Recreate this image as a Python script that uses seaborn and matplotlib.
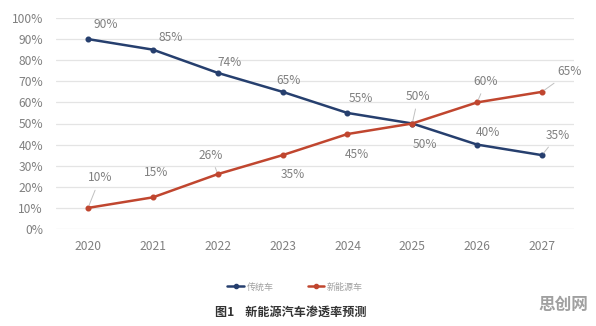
import matplotlib
matplotlib.use("Agg")
import matplotlib.pyplot as plt
import seaborn as sns
import pandas as pd
from matplotlib.lines import Line2D

years = ["2020", "2021", "2022", "2023", "2024", "2025", "2026", "2027"]
traditional = [90, 85, 74, 65, 55, 50, 40, 35]
new_energy = [10, 15, 26, 35, 45, 50, 60, 65]
series_names = ["传统车", "新能源车"]
y_ticks = [0, 10, 20, 30, 40, 50, 60, 70, 80, 90, 100]
title = "图1    新能源汽车渗透率预测"
watermark = "思创网"

BLUE = "#263f6e"
RED = "#c0462f"
GREY = "#808080"

sns.set_theme(style="white")
plt.rcParams["font.family"] = ["Noto Sans CJK SC", "DejaVu Sans"]

df = pd.DataFrame({
    "year": years * 2,
    "value": traditional + new_energy,
    "series": [series_names[0]] * len(years) + [series_names[1]] * len(years),
})

fig = plt.figure(figsize=(5.96, 3.26), dpi=100)
ax = fig.add_axes([55.6 / 596, 1 - 229 / 326, 518.8 / 596, 211 / 326])

sns.pointplot(data=df, x="year", y="value", hue="series", order=years,
              hue_order=series_names, palette=[BLUE, RED], markers="o",
              markersize=3.0, linewidth=1.8, ax=ax, legend=False, errorbar=None)

ax.set_xlim(-0.5, len(years) - 0.5)
ax.set_ylim(0, 100)
ax.set_yticks(y_ticks)
ax.set_yticklabels([f"{t}%" for t in y_ticks])
ax.set_xlabel("")
ax.set_ylabel("")
ax.grid(axis="y", color="#e4e4e4", linewidth=0.9)
ax.grid(axis="x", visible=False)
ax.set_axisbelow(True)
for s in ax.spines.values():
    s.set_visible(False)
ax.tick_params(axis="both", length=0, labelsize=8.7, labelcolor=GREY)
ax.tick_params(axis="y", pad=9)
ax.tick_params(axis="x", pad=8)

# label offsets in pixels (styling), leader-line flags
blue_off = [(18, 15), (18, 12), (12, 10), (6, 11), (13, 14), (6, 27), (11, 12), (16, 20)]
blue_lead = [False, False, False, False, False, True, False, True]
red_off = [(12, 30), (3, 25), (-7, 19), (10, -19), (10, -20), (13, -21), (9, 21), (28, 20)]
red_lead = [True, False, True, False, False, False, True, True]

for vals, offs, leads in [(traditional, blue_off, blue_lead), (new_energy, red_off, red_lead)]:
    for i, v in enumerate(vals):
        kw = {}
        if leads[i]:
            kw["arrowprops"] = dict(arrowstyle="-", color="#c0c0c0", lw=0.7,
                                    shrinkA=2, shrinkB=2)
        ax.annotate(f"{v}%", xy=(i, v), xytext=offs[i], textcoords="offset pixels",
                    ha="center", va="center", fontsize=8.6, color=GREY, **kw)

handles = [Line2D([0], [0], color=BLUE, lw=1.8, marker="o", markersize=3.0),
           Line2D([0], [0], color=RED, lw=1.8, marker="o", markersize=3.0)]
fig.legend(handles, series_names, loc="center", bbox_to_anchor=(295 / 596, 1 - 287 / 326),
           ncol=2, frameon=False, fontsize=6.5, labelcolor="#a0a0a0",
           handlelength=1.8, handletextpad=0.3, columnspacing=3.8)

fig.text(291 / 596, 1 - 312 / 326, title, ha="center", va="center",
         fontsize=8.7, fontweight="bold", color="#333333")
fig.text(563 / 596, 1 - 305 / 326, watermark, ha="center", va="center",
         fontsize=12, fontweight="bold", color="#a0a0a0")

fig.savefig("out.png", dpi=100)
